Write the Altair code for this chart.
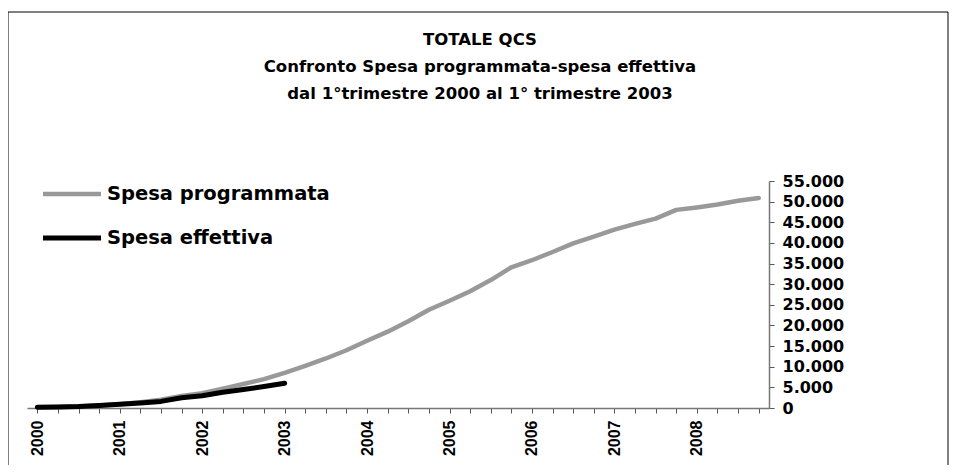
import altair as alt
import pandas as pd

years = [2000, 2001, 2002, 2003, 2004, 2005, 2006, 2007, 2008]
quarters = ["T1", "T2", "T3", "T4"]
categories = [f"{y} {q}" for y in years for q in quarters]

spesa_programmata = [200, 250, 350, 600, 900, 1400, 2000, 2900, 3600, 4700, 5800, 7000,
                     8500, 10200, 12000, 14000, 16300, 18500, 21000, 23800, 26000, 28300,
                     31000, 34100, 35800, 37800, 39900, 41500, 43200, 44600, 45900, 48000,
                     48600, 49300, 50200, 50900]
spesa_effettiva = [200, 250, 350, 600, 900, 1200, 1600, 2500, 2950, 3800, 4500, 5200, 6000]

series_names = ["Spesa programmata", "Spesa effettiva"]
series_colors = ["#999999", "#000000"]
y_ticks = list(range(0, 55001, 5000))
title_lines = ["TOTALE QCS",
               "Confronto Spesa programmata-spesa effettiva",
               "dal 1°trimestre 2000 al 1° trimestre 2003"]

rows = []
for c, v in zip(categories, spesa_programmata):
    rows.append({"periodo": c, "valore": v, "serie": series_names[0]})
for c, v in zip(categories, spesa_effettiva):
    rows.append({"periodo": c, "valore": v, "serie": series_names[1]})
df = pd.DataFrame(rows)

W, H = 742, 227

lines = alt.Chart(df).mark_line(strokeCap="round", strokeJoin="round").encode(
    x=alt.X("periodo:N", sort=categories,
            scale=alt.Scale(domain=categories, paddingInner=0, paddingOuter=0),
            axis=alt.Axis(title=None, labelAngle=-90, bandPosition=0,
                          labelExpr="indexof(datum.value, 'T1') >= 0 ? slice(datum.value, 0, 4) : ''",
                          labelFont="Liberation Sans", labelFontSize=16, labelFontWeight="bold",
                          labelColor="#000000", labelPadding=7, tickSize=5, tickColor="#555555",
                          domainColor="#777777", domainWidth=1.5, grid=False, labelBound=False,
                          labelOverlap=False)),
    y=alt.Y("valore:Q", scale=alt.Scale(domain=[0, 55000], nice=False),
            axis=alt.Axis(title=None, orient="right", values=y_ticks,
                          labelExpr="replace(format(datum.value, ','), ',', '.')",
                          labelFont="DejaVu Sans", labelFontSize=16, labelFontWeight="bold",
                          labelColor="#000000", labelPadding=8, tickSize=5, tickColor="#555555",
                          domainColor="#777777", domainWidth=1.5, grid=False)),
    color=alt.Color("serie:N", sort=series_names,
                    scale=alt.Scale(domain=series_names, range=series_colors),
                    legend=alt.Legend(title=None, orient="none", legendX=28, legendY=-4,
                                      symbolType="M-2,0H2", symbolSize=841, symbolStrokeWidth=4,
                                      labelFont="DejaVu Sans", labelFontSize=19.5,
                                      labelFontWeight="bold", labelColor="#000000",
                                      labelOffset=18, rowPadding=17, labelLimit=400)),
    strokeWidth=alt.StrokeWidth("serie:N", sort=series_names,
                                scale=alt.Scale(domain=series_names, range=[4.5, 5]),
                                legend=None),
    order=alt.Order("serie:N"),
)

border = alt.Chart(pd.DataFrame({"b": [0]})).mark_rect(
    fill=None, stroke="#000000", strokeWidth=1, clip=False
).encode(
    x=alt.value(-19), x2=alt.value(921), y=alt.value(-169), y2=alt.value(300)
)

title = alt.Chart(pd.DataFrame({"t": ["\n".join(title_lines)]})).mark_text(
    lineBreak="\n", lineHeight=27, font="DejaVu Sans", fontSize=16.5, fontWeight="bold",
    color="#000000", align="center", baseline="middle", clip=False
).encode(
    text="t:N", x=alt.value(453), y=alt.value(-141)
)

chart = alt.layer(border, title, lines).properties(
    width=W, height=H,
    background="white",
    padding={"left": 19, "top": 173, "right": 180, "bottom": 57},
    autosize=alt.AutoSizeParams(type="none"),
).configure_view(stroke=None)

chart.save("out.html", embed_options={"renderer": "svg", "actions": False})
